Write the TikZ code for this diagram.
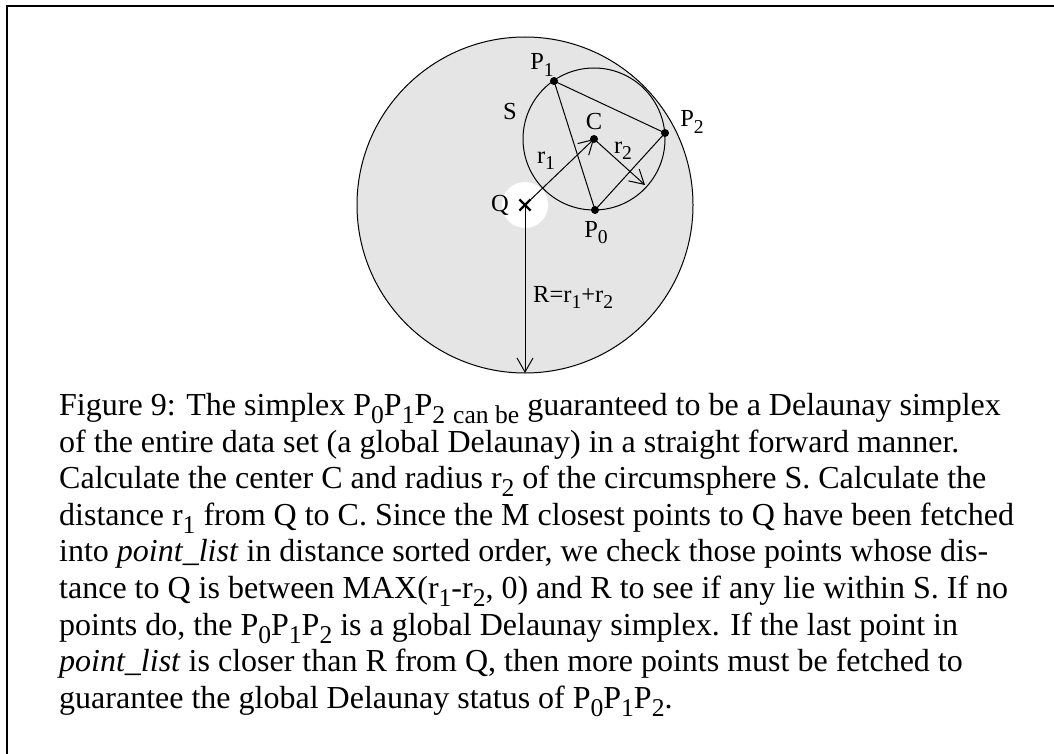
\documentclass[tikz,border=0pt]{standalone}
\usepackage{graphicx}
\usepackage{fontspec}
\setmainfont{Liberation Serif}
\usetikzlibrary{arrows.meta,shapes.misc}
\newcommand{\dn}[1]{\raisebox{-0.25em}{\scalebox{0.8}{#1}}}
\tikzset{
  outer/.style={draw=black,line width=1pt,fill=black!10},
  hole/.style={fill=white},
  sphere/.style={draw=black,line width=1pt},
  edge/.style={draw=black,line width=1pt},
  radius/.style={draw=black,line width=1pt,-{Straight Barb[length=14pt,width=16pt]}},
  vpoint/.style={circle,fill=black,inner sep=0pt,minimum size=8pt},
  qmark/.style={cross out,draw=black,line width=2.2pt,inner sep=0pt,minimum size=9pt},
  lbl/.style={font=\fontsize{24.5}{28}\selectfont,inner sep=0pt},
  caption/.style={font=\fontsize{32}{36.6}\selectfont,inner sep=0pt,align=left},
  frame/.style={line width=2.5pt}
}

\begin{document}
\begin{tikzpicture}[x=1pt,y=-1pt]
  \useasboundingbox (0,0) rectangle (1054,754);
  \coordinate (Q) at (525,205);
  \coordinate (C) at (594,139);
  \coordinate (P0) at (595,210);
  \coordinate (P1) at (554,81);
  \coordinate (P2) at (665,133);
  \coordinate (r2end) at (645,185);
  \coordinate (Rend) at (525,373);

  % discs
  \draw[outer] (Q) circle (168pt);
  \fill[hole] (Q) circle (23pt);
  \draw[sphere] (C) circle (71pt);

  \node[vpoint] (p0) at (P0) {};
  \node[vpoint] (p1) at (P1) {};
  \node[vpoint] (p2) at (P2) {};
  \node[vpoint] (c) at (C) {};
  \node[qmark] (q) at (Q) {};

  \draw[edge] (p1.center) -- (p2.center) -- (p0.center) -- cycle;
  \draw[radius] (q.center) -- (c.center);
  \draw[radius] (c.center) -- (r2end);
  \draw[radius] (q.center) -- (Rend);

  % labels
  \node[lbl] (lp1) at (542,65) {P\dn{1}};
  \node[lbl] (lp2) at (692,122) {P\dn{2}};
  \node[lbl] (lp0) at (596,233) {P\dn{0}};
  \node[lbl] (ls) at (510,112) {S};
  \node[lbl] (lc) at (594,122) {C};
  \node[lbl] (lr1) at (546,161) {r\dn{1}};
  \node[lbl] (lr2) at (623,151) {r\dn{2}};
  \node[lbl] (lq) at (500,205) {Q};
  \node[lbl,anchor=base west] (lR) at (533,302) {R=r\dn{1}+r\dn{2}};

  \node[caption,anchor=north west] (cap) at (59,393) {Figure 9: The simplex P\dn{0}P\dn{1}P\dn{2} \dn{can be} guaranteed to be a Delaunay simplex\\
of the entire data set (a global Delaunay) in a straight forward manner.\\
Calculate the center C and radius r\dn{2} of the circumsphere S. Calculate the\\
distance r\dn{1} from Q to C. Since the M closest points to Q have been fetched\\
into \textit{point\_list} in distance sorted order, we check those points whose dis-\\
tance to Q is between MAX(r\dn{1}-r\dn{2}, 0) and R to see if any lie within S. If no\\
points do, the P\dn{0}P\dn{1}P\dn{2} is a global Delaunay simplex. If the last point in\\
\textit{point\_list} is closer than R from Q, then more points must be fetched to\\
guarantee the global Delaunay status of P\dn{0}P\dn{1}P\dn{2}.};

  \draw[frame] (1054,6) -- (7,6) -- (7,754);
\end{tikzpicture}
\end{document}
